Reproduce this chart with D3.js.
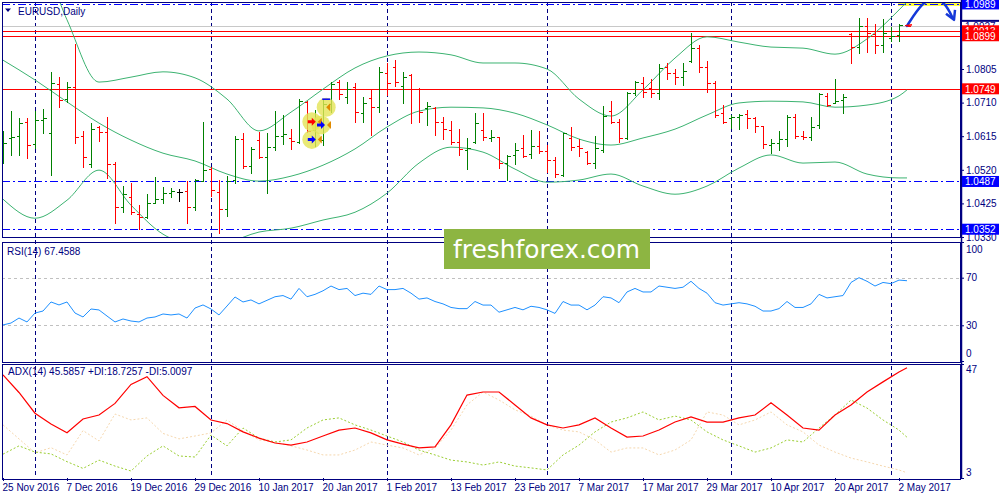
<!DOCTYPE html>
<html><head><meta charset="utf-8">
<script src="https://cdn.jsdelivr.net/npm/d3@7/dist/d3.min.js"></script>
<style>
body{margin:0;background:#fff;}
svg{display:block;font-family:"Liberation Sans",Arial,sans-serif;}
</style></head><body>
<svg id="c" width="1000" height="500"></svg>
<script>
// ---------- DATA ----------
const opens = [1.0576,1.0610,1.0615,1.0655,1.0593,1.0661,1.0624,1.0763,1.0720,1.0754,1.0615,1.0536,1.0641,1.0627,1.0536,1.0414,1.0443,1.0395,1.0386,1.0426,1.0437,1.0454,1.0457,1.0460,1.0414,1.0488,1.0522,1.0457,1.0409,1.0491,1.0607,1.0530,1.0604,1.0556,1.0584,1.0615,1.0610,1.0598,1.0712,1.0632,1.0604,1.0706,1.0768,1.0726,1.0754,1.0680,1.0723,1.0697,1.0794,1.0811,1.0757,1.0788,1.0748,1.0695,1.0695,1.0655,1.0632,1.0598,1.0576,1.0598,1.0632,1.0610,1.0613,1.0539,1.0562,1.0581,1.0564,1.0587,1.0573,1.0547,1.0505,1.0610,1.0587,1.0570,1.0539,1.0576,1.0686,1.0655,1.0610,1.0737,1.0765,1.0751,1.0737,1.0811,1.0794,1.0782,1.0828,1.0864,1.0811,1.0765,1.0680,1.0666,1.0669,1.0678,1.0666,1.0644,1.0590,1.0596,1.0607,1.0669,1.0615,1.0613,1.0647,1.0729,1.0709,1.0717,1.0904,1.0867,1.0927,1.0904,1.0873,1.0893,1.0901,1.0930];
const highs = [1.0630,1.0686,1.0666,1.0666,1.0686,1.0692,1.0797,1.0782,1.0768,1.0876,1.0630,1.0652,1.0644,1.0669,1.0542,1.0474,1.0482,1.0420,1.0451,1.0499,1.0471,1.0468,1.0465,1.0488,1.0494,1.0655,1.0528,1.0491,1.0502,1.0615,1.0624,1.0584,1.0627,1.0624,1.0686,1.0675,1.0635,1.0720,1.0714,1.0689,1.0720,1.0768,1.0774,1.0768,1.0765,1.0726,1.0746,1.0811,1.0822,1.0830,1.0797,1.0791,1.0751,1.0712,1.0697,1.0669,1.0658,1.0635,1.0610,1.0680,1.0680,1.0632,1.0613,1.0562,1.0596,1.0618,1.0632,1.0630,1.0590,1.0556,1.0624,1.0641,1.0607,1.0573,1.0615,1.0700,1.0714,1.0664,1.0740,1.0771,1.0782,1.0777,1.0819,1.0822,1.0805,1.0822,1.0907,1.0873,1.0828,1.0771,1.0703,1.0675,1.0678,1.0689,1.0669,1.0644,1.0607,1.0630,1.0675,1.0678,1.0630,1.0669,1.0737,1.0737,1.0777,1.0734,1.0907,1.0949,1.0949,1.0932,1.0947,1.0924,1.0932,1.0930];
const lows = [1.0539,1.0562,1.0562,1.0553,1.0581,1.0624,1.0505,1.0697,1.0712,1.0596,1.0528,1.0528,1.0601,1.0497,1.0369,1.0400,1.0395,1.0352,1.0383,1.0426,1.0426,1.0443,1.0431,1.0369,1.0406,1.0488,1.0446,1.0341,1.0389,1.0482,1.0525,1.0511,1.0553,1.0454,1.0576,1.0593,1.0579,1.0596,1.0627,1.0587,1.0590,1.0683,1.0720,1.0709,1.0655,1.0655,1.0618,1.0683,1.0731,1.0757,1.0709,1.0652,1.0655,1.0647,1.0618,1.0607,1.0593,1.0562,1.0522,1.0596,1.0604,1.0601,1.0525,1.0491,1.0536,1.0556,1.0553,1.0567,1.0514,1.0499,1.0502,1.0576,1.0559,1.0536,1.0525,1.0570,1.0652,1.0598,1.0607,1.0731,1.0726,1.0726,1.0720,1.0777,1.0763,1.0760,1.0825,1.0797,1.0740,1.0669,1.0652,1.0638,1.0635,1.0638,1.0627,1.0581,1.0567,1.0576,1.0587,1.0610,1.0607,1.0604,1.0638,1.0700,1.0709,1.0680,1.0822,1.0850,1.0853,1.0850,1.0853,1.0884,1.0884,1.0927];
const closes = [1.0596,1.0613,1.0652,1.0590,1.0661,1.0666,1.0765,1.0717,1.0754,1.0613,1.0556,1.0635,1.0627,1.0536,1.0414,1.0451,1.0400,1.0386,1.0426,1.0437,1.0454,1.0460,1.0457,1.0414,1.0491,1.0519,1.0463,1.0409,1.0488,1.0607,1.0530,1.0579,1.0556,1.0584,1.0615,1.0621,1.0601,1.0714,1.0630,1.0655,1.0706,1.0763,1.0734,1.0748,1.0683,1.0709,1.0697,1.0797,1.0765,1.0768,1.0782,1.0748,1.0683,1.0700,1.0655,1.0635,1.0598,1.0579,1.0581,1.0652,1.0613,1.0613,1.0539,1.0559,1.0576,1.0559,1.0587,1.0573,1.0547,1.0508,1.0624,1.0584,1.0581,1.0539,1.0581,1.0672,1.0655,1.0610,1.0737,1.0768,1.0740,1.0737,1.0808,1.0794,1.0782,1.0799,1.0864,1.0811,1.0765,1.0675,1.0655,1.0669,1.0675,1.0666,1.0644,1.0593,1.0596,1.0607,1.0669,1.0615,1.0613,1.0641,1.0734,1.0703,1.0714,1.0726,1.0867,1.0927,1.0907,1.0873,1.0907,1.0898,1.0930,1.0927];

const dateLabels = ["25 Nov 2016","7 Dec 2016","19 Dec 2016","29 Dec 2016","10 Jan 2017","20 Jan 2017","1 Feb 2017","13 Feb 2017","23 Feb 2017","7 Mar 2017","17 Mar 2017","29 Mar 2017","10 Apr 2017","20 Apr 2017","2 May 2017"];
const dateLabelIdx = [0,8,16,24,32,40,48,56,64,72,80,88,96,104,112];
const monthSepIdx = [4,26,48,68,91,111];

const bbIdx = [0,4,8,12,16,20,24,28,32,36,40,44,48,52,56,60,64,68,72,76,80,84,88,92,96,100,104,108,112,113];
const bbUpper = [1.1224,1.1164,1.0944,1.0768,1.0782,1.0797,1.0780,1.0720,1.0630,1.0683,1.0748,1.0808,1.0842,1.0853,1.0845,1.0822,1.0822,1.0805,1.0720,1.0672,1.0746,1.0836,1.0896,1.0881,1.0867,1.0864,1.0847,1.0890,1.0972,1.0995];
const bbMiddle = [1.0830,1.0774,1.0712,1.0652,1.0604,1.0567,1.0545,1.0508,1.0488,1.0502,1.0533,1.0579,1.0641,1.0686,1.0697,1.0695,1.0680,1.0647,1.0607,1.0590,1.0610,1.0635,1.0675,1.0709,1.0714,1.0712,1.0697,1.0703,1.0729,1.0746];
const bbLower = [1.0437,1.0383,1.0434,1.0519,1.0420,1.0338,1.0310,1.0316,1.0344,1.0355,1.0378,1.0400,1.0454,1.0539,1.0584,1.0570,1.0522,1.0485,1.0491,1.0508,1.0474,1.0451,1.0474,1.0525,1.0562,1.0539,1.0542,1.0508,1.0497,1.0497];

const rsi = [30.3,31.9,36.1,32.8,40.3,42.0,49.6,47.1,49.6,40.3,37.0,43.7,42.9,37.8,32.8,35.3,33.6,32.8,36.1,37.0,39.5,38.7,39.5,36.1,44.5,47.1,43.7,38.7,46.2,53.8,49.6,51.3,
 48,51,54,55,52,61,54,56,59,63,60,61,55,57,56,63,60,60,61,57,52,53,50,48,45,44,44,50,47,47,41,43,45,43,46,45,43,40,50,47,47,43,47,54,53,49,58,61,58,58,63,62,61,62,67,61,57,49,47,48,49,48,46,42,42,44,50,45,45,48,56,53,54,55,66,70,67,63,66,65,68,67.4588];
const rsiLevels = [70,30];

const indIdx = [0,2,4,6,8,10,12,14,16,18,20,22,24,26,28,30,32,34,36,38,40,42,44,46,48,50,52,54,56,58,60,62,64,66,68,70,72,74,76,78,80,82,84,86,88,90,92,94,96,98,100,102,104,106,108,110,112,113];
const adx = [42.8,36.0,28.0,23.8,20.5,25.8,27.3,31.8,39.1,42.1,34.9,30.1,30.6,25.4,24.0,20.8,18.4,16.5,15.7,16.9,19.2,21.5,22.3,20.4,17.7,16.1,14.6,15.0,23.5,35.0,36.2,36.2,31.2,26.2,23.5,22.3,23.5,26.2,22.3,18.8,19.2,21.5,24.6,26.6,24.6,24.6,26.2,27.3,32.0,27.3,22.3,21.5,27.3,31.2,36.2,40.1,43.9,45.5857];
const plusDI = [12.2,15.4,13.0,12.3,9.3,6.7,9.9,7.6,5.7,11.5,15.4,11.5,11.1,19.6,15.4,22.3,18.4,16.9,17.7,22.3,25.4,26.2,23.5,21.5,19.2,16.9,13.8,11.9,9.9,9.2,8.0,9.2,7.6,6.9,6.1,11.9,15.7,20.8,24.6,26.2,28.5,25.4,26.9,25.4,20.8,17.7,15.4,13.0,14.6,17.7,16.9,22.3,27.3,33.1,30.0,25.4,21.5,18.7257];
const minusDI = [23.5,18.1,12.7,14.7,11.9,21.3,17.3,27.7,25.4,26.2,20.2,18.1,19.2,20.4,25.4,21.1,17.7,16.9,15.4,13.8,11.9,11.9,13.8,16.9,15.7,14.6,11.9,14.6,21.5,31.2,36.2,33.1,29.3,26.9,23.5,21.5,20.8,17.7,13.0,14.6,14.6,11.9,13.8,17.7,28.5,27.3,23.5,25.4,28.5,23.5,20.8,15.7,13.0,10.7,9.2,7.6,6.1,5.0097];

const priceTicks = [1.0805,1.0710,1.0615,1.0520,1.0425,1.0330];
const redLevels = [1.0913,1.0899,1.0749];
const blueLevels = [1.0989,1.0487,1.0352];
const bidPrice = 1.0927;
const rsiTicks = [100,70,30,0];
const adxTicks = [47,3];
// trade markers: bar position (fractional index), price, kind
const markers = [
  {i:40.4,p:1.0697,kind:"close"},
  {i:38.6,p:1.0656,kind:"sell"},
  {i:39.75,p:1.0647,kind:"buy"},
  {i:38.6,p:1.0606,kind:"buy"}
];

// ---------- LAYOUT ----------
const NAVY="#000080";
const svg=d3.select("#c");
const L=2, R=961;
const P={top:2,bot:237}, RS={top:241.5,bot:361}, AD={top:363.5,bot:478};
const x=d3.scaleLinear().domain([0,113]).range([3,907]);
const yP=d3.scaleLinear().domain([1.0330,1.0805]).range([237,69]);
const yR=d3.scaleLinear().domain([0,100]).range([361,242]);
const yA=d3.scaleLinear().domain([3,47]).range([478,364]);
const px=v=>Math.round(v)+0.5;

svg.append("rect").attr("width",1000).attr("height",500).attr("fill","#fff");
const defs=svg.append("defs");
[["cpMain",P],["cpRsi",RS],["cpAdx",AD]].forEach(([id,r])=>{
  defs.append("clipPath").attr("id",id).append("rect").attr("x",L).attr("y",r.top).attr("width",R-L).attr("height",r.bot-r.top);
});

// month separators
const sep=svg.append("g");
monthSepIdx.forEach(i=>{
  sep.append("line").attr("x1",px(x(i))).attr("x2",px(x(i))).attr("y1",P.top).attr("y2",AD.bot)
   .attr("stroke",NAVY).attr("stroke-dasharray","4,3").attr("shape-rendering","crispEdges");
});

// ---------- MAIN PANEL ----------
const gM=svg.append("g").attr("clip-path","url(#cpMain)");
// bid line
gM.append("line").attr("x1",L).attr("x2",R).attr("y1",px(yP(bidPrice))).attr("y2",px(yP(bidPrice))).attr("stroke","#c8c8c8").attr("shape-rendering","crispEdges");
// horizontal levels
redLevels.forEach(v=>gM.append("line").attr("x1",L).attr("x2",R).attr("y1",px(yP(v))).attr("y2",px(yP(v))).attr("stroke","#ff0000").attr("stroke-width",1.2).attr("shape-rendering","crispEdges"));
blueLevels.forEach(v=>gM.append("line").attr("x1",L).attr("x2",R).attr("y1",px(yP(v))).attr("y2",px(yP(v))).attr("stroke","#0000ff").attr("stroke-width",1.2).attr("stroke-dasharray","8,3,2,3").attr("shape-rendering","crispEdges"));
// yellow highlight at top right
gM.append("rect").attr("x",898).attr("y",0).attr("width",R-898).attr("height",yP(1.0989)+2).attr("fill","#ffff33");
gM.append("line").attr("x1",898).attr("x2",R).attr("y1",px(yP(1.0989))).attr("y2",px(yP(1.0989))).attr("stroke","#0000ff").attr("stroke-dasharray","8,3,2,3");

// Bollinger bands
const bbLine=d3.line().x(d=>x(d[0])).y(d=>yP(d[1])).curve(d3.curveMonotoneX);
[bbUpper,bbMiddle,bbLower].forEach(arr=>{
  gM.append("path").attr("d",bbLine(bbIdx.map((i,k)=>[i,arr[k]]))).attr("fill","none").attr("stroke","#3cb371").attr("stroke-width",1);
});

// OHLC bars
const bars=gM.append("g").attr("shape-rendering","crispEdges");
opens.forEach((o,i)=>{
  const c=closes[i];
  const col=c>o?"#008000":(c<o?"#ff0000":"#000000");
  const cx=px(x(i));
  bars.append("line").attr("x1",cx).attr("x2",cx).attr("y1",Math.round(yP(highs[i]))).attr("y2",Math.round(yP(lows[i]))+1).attr("stroke",col);
  bars.append("line").attr("x1",cx-3).attr("x2",cx).attr("y1",px(yP(o))).attr("y2",px(yP(o))).attr("stroke",col);
  bars.append("line").attr("x1",cx).attr("x2",cx+3).attr("y1",px(yP(c))).attr("y2",px(yP(c))).attr("stroke",col);
});

// trade markers
const gK=gM.append("g");
markers.forEach(m=>{
  gK.append("circle").attr("cx",x(m.i)).attr("cy",yP(m.p)).attr("r",9.5).attr("fill","#e4e455").attr("opacity",0.8);
});
markers.forEach(m=>{
  const cx=x(m.i), cy=yP(m.p);
  if(m.kind==="close"){
    gK.append("path").attr("d",`M${cx+4},${cy-4}L${cx},${cy}L${cx+4},${cy+4}Z`).attr("fill","#e08a00");
    gK.append("line").attr("x1",cx-4).attr("x2",cx+4).attr("y1",cy-8).attr("y2",cy-8).attr("stroke","#0000ff").attr("stroke-width",1.5);
  } else {
    const col=m.kind==="sell"?"#ff0000":"#0000ff";
    gK.append("path").attr("d",`M${cx-4},${cy-1.5}H${cx}V${cy-4}L${cx+4},${cy}L${cx},${cy+4}V${cy+1.5}H${cx-4}Z`).attr("fill",col);
    gK.append("path").attr("d",`M${cx+10},${cy-4}L${cx+6},${cy}L${cx+10},${cy+4}Z`).attr("fill","#e08a00");
  }
});

// hand-drawn blue arrow (annotation)
const ax0=x(113), ay0=yP(bidPrice);
gM.append("path").attr("d",`M${ax0},${ay0} C${ax0+8},${ay0-12} ${ax0+18},${ay0-30} ${ax0+30},${ay0-27} C${ax0+38},${ay0-24} ${ax0+42},${ay0-16} ${ax0+45},${ay0-9}`)
  .attr("fill","none").attr("stroke","#1538d8").attr("stroke-width",2.5).attr("stroke-linecap","round");
gM.append("path").attr("d",`M${ax0+39},${ay0-12} L${ax0+47},${ay0-6} L${ax0+48},${ay0-16}`).attr("fill","none").attr("stroke","#1538d8").attr("stroke-width",2.5).attr("stroke-linejoin","round");
gM.append("path").attr("d",`M${ax0-1},${ay0} l6,-1`).attr("stroke","#ff0000").attr("stroke-width",1.5);

// ---------- RSI PANEL ----------
const gR=svg.append("g").attr("clip-path","url(#cpRsi)");
rsiLevels.forEach(v=>gR.append("line").attr("x1",L).attr("x2",R).attr("y1",px(yR(v))).attr("y2",px(yR(v))).attr("stroke","#c0c0c0").attr("stroke-dasharray","3,3").attr("shape-rendering","crispEdges"));
gR.append("path").attr("d",d3.line().x((d,i)=>x(i)).y(d=>yR(d))(rsi)).attr("fill","none").attr("stroke","#1e90ff").attr("stroke-width",1);

// ---------- ADX PANEL ----------
const gA=svg.append("g").attr("clip-path","url(#cpAdx)");
const indLine=arr=>d3.line().x(d=>x(d[0])).y(d=>yA(d[1]))(indIdx.map((i,k)=>[i,arr[k]]));
gA.append("path").attr("d",indLine(minusDI)).attr("fill","none").attr("stroke","#f5d7ae").attr("stroke-dasharray","2,2");
gA.append("path").attr("d",indLine(plusDI)).attr("fill","none").attr("stroke","#9acd32").attr("stroke-dasharray","2,2");
gA.append("path").attr("d",indLine(adx)).attr("fill","none").attr("stroke","#ff0000").attr("stroke-width",1.2);

// ---------- FRAMES ----------
[P,RS,AD].forEach(r=>{
  svg.append("rect").attr("x",L+0.5).attr("y",Math.round(r.top)+0.5).attr("width",R-L-1).attr("height",Math.round(r.bot-r.top)).attr("fill","none").attr("stroke",NAVY).attr("shape-rendering","crispEdges");
});
svg.append("line").attr("x1",R+0.5).attr("x2",R+0.5).attr("y1",0).attr("y2",AD.bot).attr("stroke",NAVY).attr("stroke-width",1.5);

// ---------- AXES ----------
const axisStyle=g=>{
  g.select(".domain").remove();
  g.selectAll(".tick line").attr("stroke",NAVY);
  g.selectAll(".tick text").attr("fill",NAVY).attr("font-size","10px").attr("font-family","Liberation Sans, Arial, sans-serif");
};
svg.append("g").attr("transform",`translate(${R},0)`)
  .call(d3.axisRight(yP).tickValues(priceTicks).tickFormat(d3.format(".4f")).tickSize(3).tickPadding(2)).call(axisStyle);
const gRa=svg.append("g").attr("transform",`translate(${R},0)`)
  .call(d3.axisRight(yR).tickValues(rsiTicks).tickFormat(d3.format("d")).tickSize(3).tickPadding(2)).call(axisStyle);
gRa.selectAll(".tick text").attr("dy",d=>d===100?"1.0em":(d===0?"-0.5em":"0.32em"));
const gAa=svg.append("g").attr("transform",`translate(${R},0)`)
  .call(d3.axisRight(yA).tickValues(adxTicks).tickFormat(d3.format("d")).tickSize(3).tickPadding(2)).call(axisStyle);
gAa.selectAll(".tick text").attr("dy",d=>d===47?"0.85em":"-0.3em");
const gX=svg.append("g").attr("transform",`translate(0,${AD.bot})`)
  .call(d3.axisBottom(x).tickValues(dateLabelIdx).tickFormat((d,k)=>dateLabels[k]).tickSize(3).tickPadding(3)).call(axisStyle);
gX.selectAll(".tick text").attr("text-anchor","start").attr("x",-1);

// level labels (boxes)
const boxLabel=(v,bg,fg)=>{
  const cy=yP(v);
  svg.append("rect").attr("x",R+1).attr("y",cy-5.5).attr("width",37).attr("height",11).attr("fill",bg);
  svg.append("text").attr("x",R+4).attr("y",cy+3.8).attr("fill",fg).attr("font-size","10px").text(d3.format(".4f")(v));
};
boxLabel(bidPrice,"#ffffff","#000080");
svg.append("rect").attr("x",R+1).attr("y",yP(bidPrice)-6).attr("width",37).attr("height",2).attr("fill",NAVY);
blueLevels.forEach(v=>boxLabel(v,"#0000ff","#ffffff"));
redLevels.forEach(v=>boxLabel(v,"#ff0000","#ffffff"));

// ---------- TITLES ----------
svg.append("path").attr("d","M5,8.5 L11,8.5 L8,12 Z").attr("fill",NAVY);
svg.append("text").attr("x",18).attr("y",15).attr("fill",NAVY).attr("font-size","10px").text("EURUSD,Daily");
svg.append("text").attr("x",7).attr("y",255).attr("fill",NAVY).attr("font-size","10px").text("RSI(14) "+rsi[rsi.length-1].toFixed(4));
svg.append("text").attr("x",8).attr("y",375).attr("fill",NAVY).attr("font-size","10px")
  .text(`ADX(14) ${adx[adx.length-1].toFixed(4)} +DI:${plusDI[plusDI.length-1].toFixed(4)} -DI:${minusDI[minusDI.length-1].toFixed(4)}`);

// ---------- WATERMARK ----------
svg.append("rect").attr("x",444).attr("y",229).attr("width",206).attr("height",40).attr("fill","#8db542");
svg.append("text").attr("x",453).attr("y",258).attr("fill","#ffffff").attr("font-family","DejaVu Sans, sans-serif").attr("font-size","25px")
  .attr("textLength",187).attr("lengthAdjust","spacingAndGlyphs").text("freshforex.com");
</script>
</body></html>
